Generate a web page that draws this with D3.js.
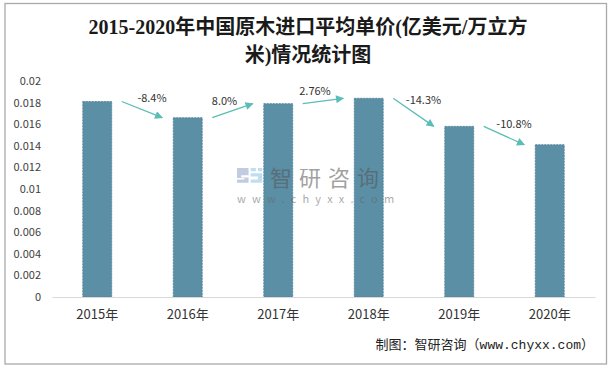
<!DOCTYPE html>
<html><head><meta charset="utf-8">
<script src="https://cdn.jsdelivr.net/npm/d3@7/dist/d3.min.js"></script>
<style>
html,body{margin:0;padding:0;background:#fff;}
svg{display:block;}
</style></head>
<body>
<svg id="chart" width="614" height="369"></svg>
<script>
const categories = ["2015年","2016年","2017年","2018年","2019年","2020年"];
const values = [0.0181, 0.0166, 0.0179, 0.0184, 0.0158, 0.0141];
const changeLabels = ["-8.4%","8.0%","2.76%","-14.3%","-10.8%"];
const yTickValues = [0,0.002,0.004,0.006,0.008,0.01,0.012,0.014,0.016,0.018,0.02];
const yTickLabels = ["0","0.002","0.004","0.006","0.008","0.01","0.012","0.014","0.016","0.018","0.02"];
const titleLines = ["2015-2020年中国原木进口平均单价(亿美元/万立方","米)情况统计图"];
const sourceText = "制图：智研咨询（www.chyxx.com）";

const svg = d3.select("#chart");
const sans = "'Noto Sans CJK SC','Noto Sans',sans-serif";

// outer frame
svg.append("rect").attr("x",5).attr("y",3.5).attr("width",601.5).attr("height",360.5)
  .attr("fill","none").attr("stroke","#aaaaaa").attr("stroke-width",1.3);

// title
svg.append("g").selectAll("text").data(titleLines).join("text")
  .attr("x",308).attr("y",(d,i)=>34+i*28)
  .attr("text-anchor","middle")
  .attr("font-family","'Liberation Serif','DejaVu Serif','Noto Sans CJK SC',serif")
  .attr("font-weight","bold").attr("font-size",20).attr("fill","#1a1a1a")
  .text(d=>d);

const x = d3.scaleBand().domain(categories).range([52,595]).paddingInner(0.68).paddingOuter(0.34);
const y = d3.scaleLinear().domain([0,0.02]).range([297,81]);
const bw = x.bandwidth();

// y axis labels
const yAxis = d3.axisLeft(y).tickValues(yTickValues).tickSize(0).tickPadding(0)
  .tickFormat((d,i)=>yTickLabels[i]);
const gy = svg.append("g").attr("transform","translate(41,0)").call(yAxis);
gy.select(".domain").remove();
gy.selectAll("text").attr("font-family",sans).attr("font-size",11).attr("fill","#404040");

// bars
svg.append("g").selectAll("rect").data(values).join("rect")
  .attr("x",(d,i)=>x(categories[i]))
  .attr("y",d=>y(d))
  .attr("width",bw)
  .attr("height",d=>y(0)-y(d))
  .attr("fill","#5b8fa6")
  .attr("stroke","#4d7f96").attr("stroke-width",0.8).attr("stroke-dasharray","2,1");

// x axis
const xAxis = d3.axisBottom(x).tickSize(0).tickPadding(13);
const gx = svg.append("g").attr("transform","translate(0,297)").call(xAxis);
gx.select(".domain").attr("stroke","#d9d9d9").attr("stroke-width",1.2);
gx.selectAll("text").attr("font-family",sans).attr("font-size",13).attr("fill","#333");

// watermark
const wm = svg.append("g").attr("opacity",0.55);
const lg = wm.append("g").attr("transform","translate(237,168) scale(1.05)");
lg.append("path").attr("d","M0,0 H11 V7 H4 V9 H11 V14 H0 V11 H7 V9.5 H0 Z").attr("fill","#8fa3c9");
lg.append("path").attr("d","M13,0 H18 V3 H13 Z M20,0 H24 V3 H20 Z M13,5 H24 V14 H13 V11 H20 V8 H13 Z").attr("fill","#8ec4e8");
wm.append("text").attr("x",270).attr("y",186).attr("font-family",sans)
  .attr("font-size",22).attr("letter-spacing",7).attr("fill","#555").text("智研咨询");
wm.append("text").attr("x",237).attr("y",203).attr("font-family",sans)
  .attr("font-size",11).attr("letter-spacing",6.2).attr("fill","#666").text("www.chyxx.com");

// change arrows
const defs = svg.append("defs");
defs.append("marker").attr("id","ah").attr("viewBox","0 0 10 10").attr("refX",9).attr("refY",5)
  .attr("markerWidth",9).attr("markerHeight",8).attr("markerUnits","userSpaceOnUse").attr("orient","auto")
  .append("path").attr("d","M0,0 L10,5 L0,10 Z").attr("fill","#5bbdb5");

const arrows = changeLabels.map((lab,i)=>{
  const x1 = x(categories[i])+bw+10, y1 = y(values[i]);
  const x2 = x(categories[i+1])-11, y2 = y(values[i+1]);
  return {lab,x1,y1,x2,y2,up:values[i+1]>values[i]};
});
const ga = svg.append("g");
ga.selectAll("line").data(arrows).join("line")
  .attr("x1",d=>d.x1).attr("y1",d=>d.y1).attr("x2",d=>d.x2).attr("y2",d=>d.y2)
  .attr("stroke","#5bbdb5").attr("stroke-width",1.3).attr("marker-end","url(#ah)");
ga.selectAll("text").data(arrows).join("text")
  .attr("x",d=>(d.x1+d.x2)/2+(d.up?-8:10))
  .attr("y",d=>(d.y1+d.y2)/2-(d.up?6:8))
  .attr("text-anchor","middle")
  .attr("font-family",sans).attr("font-size",11).attr("fill","#333")
  .text(d=>d.lab);

// source
svg.append("text").attr("x",594).attr("y",349).attr("text-anchor","end")
  .attr("font-family","'Liberation Mono','Noto Sans CJK SC',monospace")
  .attr("font-size",13).attr("fill","#222").text(sourceText);
</script>
</body></html>
